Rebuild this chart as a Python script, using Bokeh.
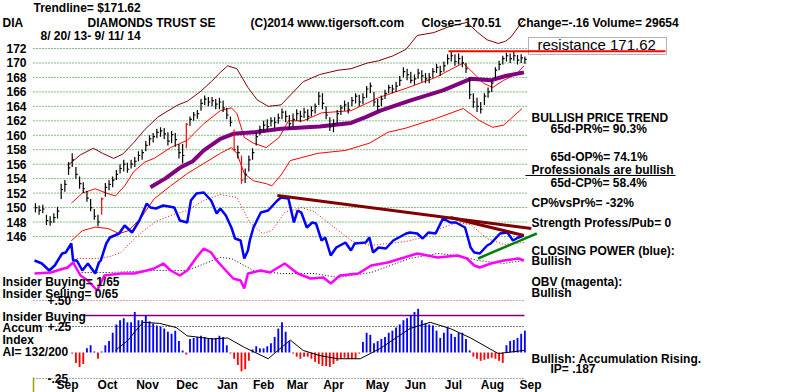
from bokeh.plotting import figure
from bokeh.models import Range1d, Label, BoxAnnotation, ColumnDataSource
from bokeh.core.properties import value
from bokeh.embed import file_html
from bokeh.resources import INLINE

# ---------------- data ----------------
# DIA bars, one bar per two trading days, 8/20/13 - 9/11/14
CLOSE = [150.0, 149.6, 149.8, 148.2, 148.0, 148.6, 149.5, 152.5, 153.2, 155.5,
         156.6, 154.6, 153.3, 152.6, 151.3, 150.0, 148.8, 148.0, 151.2, 152.8,
         153.2, 153.8, 154.6, 155.4, 156.0, 155.3, 156.0, 156.4, 157.2, 157.6,
         158.6, 159.5, 159.8, 160.4, 160.6, 160.2, 159.2, 160.1, 159.4, 157.6,
         157.2, 161.5, 162.2, 162.8, 163.0, 164.4, 165.0, 164.6, 164.8, 164.3,
         164.6, 163.8, 162.8, 161.8, 158.0, 157.6, 153.8, 154.6, 156.6, 157.6,
         159.8, 160.8, 161.4, 161.2, 162.0, 161.8, 162.4, 163.2, 162.6, 161.6,
         162.2, 163.0, 162.6, 163.2, 162.6, 163.4, 164.0, 165.4, 164.4, 162.8,
         161.2, 161.6, 163.0, 163.8, 164.2, 163.6, 164.8, 165.4, 164.6, 165.2,
         166.4, 166.8, 164.6, 164.0, 165.0, 165.8, 166.6, 166.4, 166.8, 167.6,
         168.8, 168.4, 167.6, 167.8, 168.6, 168.2, 167.8, 168.0, 168.8, 169.4,
         168.8, 169.6, 170.6, 171.0, 170.2, 170.6, 170.0, 169.2, 165.6, 164.6,
         164.0, 163.6, 165.4, 166.0, 167.2, 169.0, 169.8, 170.6, 171.0, 170.6,
         171.0, 170.4, 170.7, 170.5]
HIGH = [150.6, 150.3, 150.4, 149.0, 148.8, 149.2, 150.1, 153.3, 153.8, 156.3,
        157.5, 155.6, 154.3, 153.5, 152.3, 151.2, 149.8, 149.0, 151.4, 153.4,
        153.8, 154.3, 155.2, 156.0, 156.6, 156.2, 156.6, 157.0, 157.8, 158.0,
        159.2, 160.0, 160.3, 160.9, 161.1, 161.0, 160.4, 160.6, 160.3, 158.8,
        158.8, 161.7, 162.6, 163.2, 163.5, 165.0, 165.5, 165.3, 165.3, 165.0,
        165.2, 164.8, 163.8, 162.6, 160.8, 158.6, 157.2, 155.4, 157.2, 158.2,
        160.3, 161.3, 162.0, 162.2, 162.5, 162.5, 163.0, 163.7, 163.4, 162.8,
        163.0, 163.6, 163.4, 163.8, 163.6, 164.0, 164.4, 166.0, 165.8, 164.0,
        162.5, 162.2, 163.5, 164.2, 164.8, 164.6, 165.3, 165.8, 165.6, 165.8,
        166.8, 167.3, 166.0, 165.0, 165.5, 166.3, 167.0, 167.0, 167.4, 168.2,
        169.4, 169.2, 168.8, 168.4, 169.2, 169.0, 168.6, 168.6, 169.3, 169.9,
        169.6, 170.2, 171.2, 171.5, 171.2, 171.3, 171.0, 170.0, 168.0, 165.8,
        165.2, 164.6, 165.8, 166.6, 167.6, 169.4, 170.3, 171.0, 171.4, 171.3,
        171.5, 171.1, 171.2, 170.9]
LOW = [149.3, 149.0, 149.2, 147.6, 147.5, 147.9, 148.5, 151.2, 152.2, 154.5,
       155.6, 154.0, 152.6, 152.0, 150.8, 149.5, 148.3, 147.4, 149.0, 151.5,
       152.4, 152.8, 153.8, 154.7, 155.0, 154.8, 155.4, 155.6, 156.4, 156.6,
       157.8, 158.6, 159.0, 159.6, 159.8, 159.5, 158.6, 158.9, 158.4, 156.8,
       156.1, 158.2, 161.3, 162.0, 162.3, 163.4, 164.2, 164.0, 164.0, 163.6,
       163.6, 163.2, 162.2, 161.2, 157.8, 156.8, 153.3, 153.4, 155.0, 156.6,
       158.6, 160.0, 160.5, 160.6, 161.2, 161.0, 161.6, 162.2, 161.8, 160.9,
       161.2, 162.0, 161.8, 162.4, 162.0, 162.6, 163.0, 164.2, 163.6, 162.2,
       160.6, 160.4, 161.6, 162.8, 163.4, 163.0, 164.0, 164.4, 164.0, 164.3,
       165.2, 165.8, 164.0, 163.4, 164.0, 165.0, 165.8, 165.8, 166.0, 166.8,
       168.0, 167.6, 167.2, 167.0, 167.8, 167.4, 167.2, 167.2, 168.0, 168.6,
       168.2, 168.8, 169.8, 170.2, 169.6, 169.8, 169.4, 168.6, 165.0, 163.8,
       163.2, 163.0, 164.2, 165.2, 166.0, 167.8, 169.0, 169.8, 170.2, 170.0,
       170.3, 169.8, 170.0, 169.9]
RED_BARS = [18, 41, 54, 56]          # large-move bars drawn in red
DAYS_PER_BAR = 2

# price bands (trading-day index, price)
UPPER_X = [18, 25, 32, 37, 43, 48, 54, 60, 67, 72, 78, 83, 90, 96, 101, 105, 110, 116, 121, 127,
           134, 146, 155, 165, 172, 181, 187, 195, 202, 208, 217, 226, 235, 241, 246, 252, 256, 259, 263, 266]
UPPER_Y = [155.8, 157.3, 158.2, 157.5, 156.8, 157.4, 159.0, 160.8, 162.5, 163.3, 164.2, 164.7, 166.0, 167.4,
           168.7, 169.6, 169.2, 166.6, 164.9, 164.0, 164.2, 167.4, 168.4, 169.0, 169.2, 170.0, 170.3, 171.0,
           171.9, 173.8, 174.2, 175.1, 175.6, 174.2, 173.2, 172.7, 173.0, 173.6, 175.0, 176.0]
MID_X = [20, 26, 33, 39, 44, 49, 54, 60, 65, 74, 83, 92, 101, 107, 110, 114, 119, 126, 133, 138,
         146, 156, 172, 187, 202, 218, 233, 237, 244, 249, 255, 262, 266]
MID_Y = [150.6, 152.0, 152.6, 152.0, 151.6, 153.0, 155.0, 156.3, 156.8, 158.3, 159.3, 161.6, 163.4, 163.8,
         163.0, 159.7, 158.9, 158.3, 159.7, 162.0, 162.0, 163.1, 163.4, 165.2, 166.5, 168.0, 170.0, 169.0,
         167.2, 166.6, 167.6, 168.5, 169.6]
LOWER_X = [20, 26, 33, 40, 46, 51, 58, 65, 74, 83, 101, 107, 110, 114, 119, 126, 129, 134, 139, 154,
           169, 182, 192, 202, 218, 233, 242, 249, 255, 265]
LOWER_Y = [145.4, 146.8, 147.3, 147.1, 146.4, 146.8, 148.6, 151.2, 153.0, 154.7, 157.5, 158.3, 157.5, 154.7,
           153.7, 153.3, 153.0, 154.5, 156.5, 157.5, 157.9, 158.9, 160.4, 161.0, 162.3, 163.7, 162.0, 161.1,
           161.4, 163.7]
MA65_X = [63, 71, 79, 86, 92, 101, 108, 119, 134, 155, 172, 180, 188, 204, 222, 237, 248, 256, 266]
MA65_Y = [152.8, 154.0, 155.5, 156.4, 157.9, 159.5, 160.2, 160.4, 160.9, 161.2, 161.7, 162.5, 163.4, 164.8,
          166.2, 167.8, 167.6, 168.2, 168.7]

# Closing Power (blue) and its moving average (red dotted), arbitrary units
CP_X = [0, 4, 8, 11, 15, 17, 20, 21, 23, 26, 29, 33, 35, 36, 39, 41, 46, 49, 53, 57,
        61, 63, 66, 70, 76, 79, 83, 85, 88, 92, 96, 99, 101, 104, 107, 109, 112, 114, 116, 117,
        119, 123, 127, 132, 134, 138, 141, 143, 145, 148, 151, 153, 156, 158, 161, 164, 169, 172, 174, 180,
        182, 184, 187, 191, 195, 202, 204, 208, 211, 214, 218, 222, 226, 229, 234, 237, 239, 242, 246, 248,
        253, 257, 260, 263, 266]
CP_Y = [40, 37, 30, 35, 47, 48, 57, 40, 40, 30, 37, 27, 38, 40, 57, 63, 67, 75, 68, 80,
        97, 93, 92, 95, 93, 80, 78, 100, 107, 108, 100, 87, 92, 85, 73, 62, 60, 42, 50, 60,
        73, 88, 90, 100, 103, 102, 78, 90, 88, 73, 78, 77, 60, 63, 45, 53, 58, 50, 57, 58,
        63, 48, 53, 52, 60, 67, 68, 67, 62, 68, 67, 82, 78, 78, 73, 53, 48, 47, 55, 57,
        67, 68, 60, 63, 65]
CPMA_X = [23, 34, 41, 47, 51, 58, 66, 74, 83, 92, 101, 110, 117, 124, 129, 136, 145, 152, 165, 173,
          183, 192, 202, 211, 222, 230, 237, 246, 255, 266]
CPMA_Y = [42, 42, 44, 48, 56, 68, 79, 85, 90, 100, 106, 103, 78, 67, 70, 88, 93, 89, 70, 59,
          55, 57, 59, 63, 73, 78, 76, 62, 56, 58]

# On-Balance Volume (magenta) and its moving average (black dotted), arbitrary units
OBV_X = [0, 9, 14, 18, 21, 25, 29, 34, 38, 47, 54, 61, 65, 70, 74, 79, 83, 88, 92, 96,
         99, 104, 108, 112, 114, 116, 123, 128, 136, 143, 150, 157, 161, 166, 176, 183, 192, 201, 208, 219,
         230, 235, 239, 242, 248, 255, 263, 266]
OBV_Y = [27, 28, 31, 33, 38, 25, 20, 10, 25, 27, 27, 30, 32, 37, 30, 25, 30, 43, 52, 48,
         40, 30, 22, 20, 12, 27, 30, 28, 37, 27, 22, 23, 17, 25, 27, 35, 38, 43, 47, 43,
         45, 42, 35, 33, 37, 40, 42, 40]
OBVMA_X = [24, 41, 65, 83, 101, 107, 119, 134, 152, 165, 183, 204, 219, 230, 241, 255, 266]
OBVMA_Y = [28, 28, 30, 30, 43, 42, 30, 27, 27, 23, 28, 42, 47, 45, 40, 37, 40]

# Accumulation Index, one value per bar from bar AI_START on
AI_START = 10
AI = [-0.01, -0.10, -0.14, -0.11, 0.04, 0.07, 0.01, -0.06, 0.01, 0.07,
      0.11, 0.19, 0.27, 0.31, 0.33, 0.29, 0.29, 0.39, 0.31, 0.31,
      0.36, 0.30, 0.28, 0.26, 0.25, 0.23, 0.20, 0.18, 0.21, 0.11,
      0.02, -0.02, 0.13, 0.14, 0.15, 0.16, 0.15, 0.13, 0.14, 0.14,
      0.16, 0.15, 0.07, -0.01, -0.06, -0.12, -0.18, -0.16, -0.08, 0.03,
      0.06, 0.04, 0.04, 0.06, 0.09, 0.15, 0.23, 0.29, 0.20, 0.11,
      -0.01, -0.04, -0.06, -0.04, -0.04, -0.06, -0.09, -0.11, -0.13, -0.13,
      -0.14, -0.11, -0.08, -0.06, -0.05, -0.06, -0.06, -0.06, -0.01, 0.10,
      0.19, 0.17, 0.09, 0.11, 0.13, 0.15, 0.19, 0.21, 0.24, 0.27,
      0.31, 0.33, 0.36, 0.39, 0.42, 0.31, 0.28, 0.27, 0.26, 0.21,
      0.14, 0.19, 0.24, 0.18, 0.15, 0.19, 0.19, 0.13, 0.02, -0.04,
      -0.06, -0.08, -0.07, -0.06, -0.05, -0.06, -0.08, -0.10, 0.07, 0.11,
      0.12, 0.14, 0.18, 0.21]
AIMA_X = [44, 51, 55, 59, 68, 77, 83, 97, 105, 114, 127, 139, 146, 155, 165, 177, 188, 204, 215, 226,
          237, 252, 266]
AIMA_Y = [0.02, 0.12, 0.21, 0.29, 0.28, 0.24, 0.16, 0.13, 0.14, 0.05, -0.06, 0.12, 0.02, -0.03, -0.06,
          -0.06, 0.04, 0.23, 0.29, 0.23, 0.14, -0.01, 0.02]
INSIDER_LINE = 0.355

PRICE_TICKS = [172, 170, 168, 166, 164, 162, 160, 158, 156, 154, 152, 150, 148, 146]
AI_TICKS = [0.50, 0.25, -0.25]
AI_TICK_LABELS = ["+.50", "+.25", "-.25"]
MONTHS = ["Sep", "Oct", "Nov", "Dec", "Jan", "Feb", "Mar", "Apr", "May", "Jun", "Jul", "Aug", "Sep"]
MONTH_X = [18, 39.7, 61.4, 83, 104.9, 124.5, 142.9, 162.5, 186.4, 207, 227.7, 248.9, 269.6]

RESISTANCE = 171.62
RES_START = 225
TREND_DOWN_X, TREND_DOWN_Y = [132, 270], [105, 72]
TREND_DOWN2_X, TREND_DOWN2_Y = [226, 266], [83, 65]
TREND_UP_X, TREND_UP_Y = [241, 273], [42, 67]

# ---------------- layout helpers (reference pixel -> data) ----------------
W, H = 800, 392


def X(rx):
    return (rx - 34) / 1.84


def Y(ry):
    return 172 - (ry - 48) / 7.23


FONT = "Liberation Sans"

p = figure(width=W, height=H, x_range=Range1d(X(0), X(W)), y_range=Range1d(Y(H), Y(0)),
           x_axis_type=None, y_axis_type=None, output_backend="svg", toolbar_location=None,
           min_border=0)
p.outline_line_color = None
p.background_fill_color = "white"
p.extra_y_ranges = {"ind": Range1d(300 - H, 300), "ai": Range1d((352 - H) / 104, 352 / 104)}

# grid
p.segment(x0=X(33), x1=X(527), y0=PRICE_TICKS, y1=PRICE_TICKS, line_color="#008000",
          line_dash="1 2", line_width=1)
p.segment(x0=X(33), x1=X(524), y0=AI_TICKS, y1=AI_TICKS, y_range_name="ai",
          line_color=["#b05050", "#000000", "#505050"], line_dash="1 2", line_width=1)
p.segment(x0=X(82), x1=X(524), y0=INSIDER_LINE, y1=INSIDER_LINE, y_range_name="ai",
          line_color="#800080", line_width=1.5)

# bands and moving averages
p.line(UPPER_X, UPPER_Y, line_color="#800000", line_width=1)
p.line(MID_X, MID_Y, line_color="#ff0000", line_width=1)
p.line(LOWER_X, LOWER_Y, line_color="#ff0000", line_width=1)
p.line(MA65_X, MA65_Y, line_color="#800080", line_width=4)

# price bars
n = len(CLOSE)
bx = [DAYS_PER_BAR * k + 0.5 for k in range(n)]
bcol = ["#ff0000" if k in RED_BARS else "#000000" for k in range(n)]
bars = ColumnDataSource(dict(x=bx, xr=[v + 1.0 for v in bx], h=HIGH, l=LOW, c=CLOSE, col=bcol))
p.segment(x0="x", y0="l", x1="x", y1="h", line_color="col", line_width=1.2, source=bars)
p.segment(x0="x", y0="c", x1="xr", y1="c", line_color="col", line_width=1.2, source=bars)

# resistance
p.line([RES_START, X(665)], [RESISTANCE, RESISTANCE], line_color="#ff0000", line_width=2)

# closing power & OBV
p.line(CPMA_X, CPMA_Y, y_range_name="ind", line_color="#ff0000", line_dash="1 2", line_width=1)
p.line(OBVMA_X, OBVMA_Y, y_range_name="ind", line_color="#000000", line_dash="1 2", line_width=1)
p.line(OBV_X, OBV_Y, y_range_name="ind", line_color="#ff00ff", line_width=2.5)
p.line(CP_X, CP_Y, y_range_name="ind", line_color="#0000ff", line_width=2.5)
p.line(TREND_DOWN_X, TREND_DOWN_Y, y_range_name="ind", line_color="#800000", line_width=3)
p.line(TREND_DOWN2_X, TREND_DOWN2_Y, y_range_name="ind", line_color="#800000", line_width=3)
p.line(TREND_UP_X, TREND_UP_Y, y_range_name="ind", line_color="#008000", line_width=2.5)

# accumulation index
ax = [DAYS_PER_BAR * (AI_START + i) + 0.5 for i in range(len(AI))]
acol = ["#0000ff" if v >= 0 else "#ff0000" for v in AI]
p.vbar(x=ax, top=AI, bottom=0, width=1.0, fill_color=acol, line_color=None, y_range_name="ai")
p.line(AIMA_X, AIMA_Y, y_range_name="ai", line_color="#000000", line_width=1)
p.segment(x0=X(33), x1=X(33), y0=-0.24, y1=-0.385, y_range_name="ai", line_color="#a0a000", line_width=1.5)

# axis texts
TXT = dict(text_font=value(FONT), text_font_style="bold", text_font_size="12px", text_color="#000000")
p.text(x=X(26), y=PRICE_TICKS, text=[str(t) for t in PRICE_TICKS], text_align="right",
       text_baseline="middle", **TXT)
p.text(x=X(47), y=AI_TICKS, text=AI_TICK_LABELS, y_range_name="ai", text_align="left",
       text_baseline="middle", **TXT)
p.text(x=MONTH_X, y=(352 - 384.5) / 104, text=MONTHS, y_range_name="ai", text_align="center",
       text_baseline="middle", **TXT)


def lab(text, rx, ry, size="12px", bold=True, align="left"):
    p.add_layout(Label(x=X(rx), y=Y(ry), text=text, text_font=FONT, text_font_size=size,
                       text_font_style="bold" if bold else "normal", text_align=align,
                       text_baseline="middle", text_color="#000000"))


p.add_layout(BoxAnnotation(left=X(528), right=X(666), top=Y(37), bottom=Y(54), fill_alpha=0,
                           line_color="#000000", line_width=1))
p.add_layout(BoxAnnotation(left=X(525), right=X(675), top=Y(174.5), bottom=Y(175.5),
                           fill_color="#000000", fill_alpha=1, line_color=None))

lab("Trendline= $171.62", 33, 7.5)
lab("DIA", 2, 22)
lab("DIAMONDS TRUST SE", 87, 22)
lab("(C)2014 www.tigersoft.com", 250, 22)
lab("Close= 170.51", 421, 22)
lab("Change=-.16 Volume= 29654", 517, 22)
lab("8/ 20/ 13- 9/ 11/ 14", 40, 35)
lab("resistance 171.62", 537, 44, size="15px", bold=False)
lab("BULLISH PRICE TREND", 531, 117)
lab("65d-PR%= 90.3%", 550, 128)
lab("65d-OP%= 74.1%", 550, 156.5)
lab("Professionals are bullish", 531, 169.5)
lab("65d-CP%= 58.4%", 550, 182.5)
lab("CP%vsPr%= -32%", 531, 202.5)
lab("Strength Profess/Pub= 0", 531, 222)
lab("CLOSING POWER (blue):", 531, 250)
lab("Bullish", 531, 260.5)
lab("OBV (magenta):", 531, 281.5)
lab("Bullish", 531, 292)
lab("Bullish: Accumulation Rising.", 531, 358)
lab("IP=  .187", 550, 368)
lab("Insider Buying= 1/65", 2, 281)
lab("Insider Selling= 0/65", 2, 293.5)
lab("Insider Buying", 2, 316)
lab("Accum", 2, 327.5)
lab("Index", 2, 339.5)
lab("AI= 132/200", 2, 351.5)

open("out.html", "w").write(file_html(p, INLINE))
